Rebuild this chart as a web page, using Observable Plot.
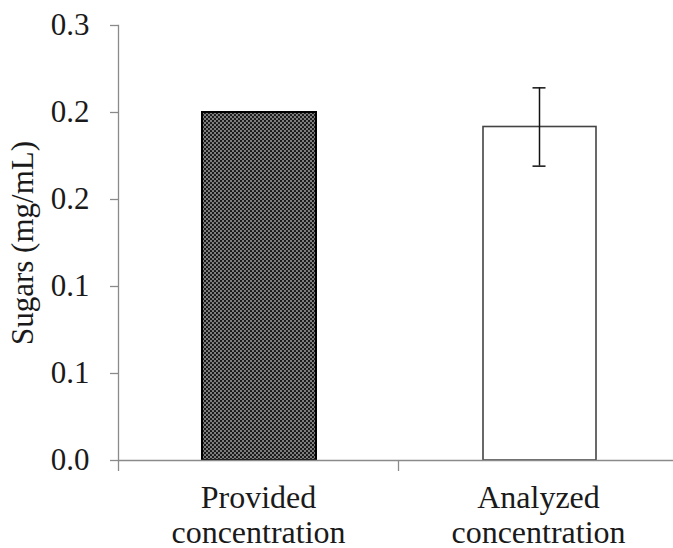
<!DOCTYPE html>
<html>
<head>
<meta charset="utf-8">
<script src="https://cdn.jsdelivr.net/npm/d3@7"></script>
<script src="https://cdn.jsdelivr.net/npm/@observablehq/plot@0.6"></script>
<style>
  html, body { margin: 0; padding: 0; background: #fff; overflow: hidden; }
  #chart svg { display: block; }
  #chart svg, #chart svg text { font-family: "Liberation Serif", "Times New Roman", serif !important; }
</style>
</head>
<body>
<div id="chart"></div>
<script>
// Sugar concentration: provided vs. analyzed (mean ± error)
const categories = ["Provided\nconcentration", "Analyzed\nconcentration"];
const values = [0.24, 0.23];
const errors = [null, 0.027];
const yTicks = [0, 0.06, 0.12, 0.18, 0.24, 0.30];

const rows = categories.map((c, i) => ({category: c, value: values[i], error: errors[i]}));
const withError = rows.filter(d => d.error != null);

const W = 673, H = 548;
const xRange = [118, 678];
const bandW = (xRange[1] - xRange[0]) / categories.length;
const axisGray = "#8a8a8a";

const chart = Plot.plot({
  width: W,
  height: H,
  marginLeft: 118,
  marginRight: 0,
  marginTop: 25,
  marginBottom: 88,
  style: "font-size: 31px; color: #1a1a1a; background: #fff;",
  x: {domain: categories, range: xRange, padding: 0},
  y: {domain: [0, 0.3]},
  marks: [
    Plot.barY(rows.slice(0, 1), {
      x: "category", y: "value",
      fill: "url(#dotsPattern)", stroke: "#000", strokeWidth: 2,
      insetLeft: 84, insetRight: 82
    }),
    Plot.barY(rows.slice(1), {
      x: "category", y: "value",
      fill: "#fff", stroke: "#444", strokeWidth: 1.6,
      insetLeft: 85, insetRight: 82
    }),
    Plot.ruleX(withError, {
      x: "category",
      y1: d => d.value - d.error, y2: d => d.value + d.error,
      stroke: "#111", strokeWidth: 1.5, dx: 1
    }),
    Plot.tickY(withError, {
      x: "category", y: d => d.value + d.error,
      stroke: "#111", strokeWidth: 1.5,
      insetLeft: (bandW - 13) / 2 + 1, insetRight: (bandW - 13) / 2 - 1
    }),
    Plot.tickY(withError, {
      x: "category", y: d => d.value - d.error,
      stroke: "#111", strokeWidth: 1.5,
      insetLeft: (bandW - 13) / 2 + 1, insetRight: (bandW - 13) / 2 - 1
    }),
    // y axis line and x baseline
    Plot.frame({anchor: "left", stroke: axisGray, strokeWidth: 1.3}),
    Plot.ruleY([0], {stroke: axisGray, strokeWidth: 1.3}),
    Plot.axisY({
      ticks: yTicks, tickFormat: d3.format(".1f"),
      tickSize: 8, tickPadding: 21, stroke: axisGray, strokeWidth: 1.3,
      fill: "#1a1a1a", fontSize: 31,
      label: "Sugars (mg/mL)", labelAnchor: "center", labelArrow: "none", labelOffset: 108
    }),
    // tick marks between categories
    Plot.axisX({
      tickSize: 11, text: null, dx: -bandW / 2,
      stroke: axisGray, strokeWidth: 1.3, label: null
    }),
    Plot.axisX({
      tickSize: 0, tickPadding: 22, fill: "#1a1a1a", fontSize: 32,
      lineHeight: 1.1, label: null
    })
  ]
});

// dotted fill used by the first bar
const defs = d3.select(chart).insert("defs", ":first-child");
const pat = defs.append("pattern")
  .attr("id", "dotsPattern").attr("patternUnits", "userSpaceOnUse")
  .attr("width", 4).attr("height", 4);
pat.append("rect").attr("width", 4).attr("height", 4).attr("fill", "#666");
pat.append("circle").attr("cx", 1).attr("cy", 1).attr("r", 1.1).attr("fill", "#111");
pat.append("circle").attr("cx", 3).attr("cy", 3).attr("r", 1.1).attr("fill", "#111");
pat.append("circle").attr("cx", 3).attr("cy", 1).attr("r", 0.7).attr("fill", "#aaa");
pat.append("circle").attr("cx", 1).attr("cy", 3).attr("r", 0.7).attr("fill", "#aaa");

document.getElementById("chart").appendChild(chart);
</script>
</body>
</html>
